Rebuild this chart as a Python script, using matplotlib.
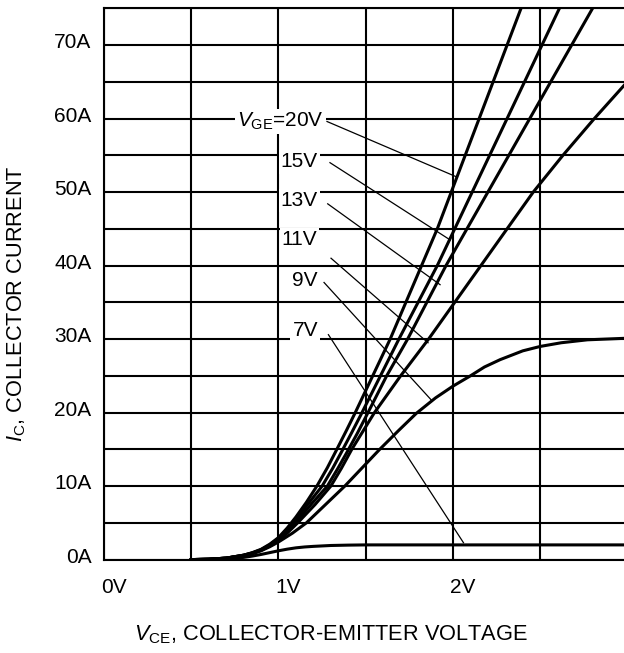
import numpy as np
import matplotlib.pyplot as plt
import matplotlib.transforms as mtransforms

plt.rcParams['font.family'] = ['Liberation Sans', 'DejaVu Sans']
plt.rcParams['mathtext.fontset'] = 'custom'
plt.rcParams['mathtext.rm'] = 'Liberation Sans'
plt.rcParams['mathtext.it'] = 'Liberation Sans:italic'

# output characteristics (V_CE in volts, I_C in amps)
v_20 = [0.5, 0.6, 0.7, 0.8, 0.85, 0.9, 0.95, 1.0, 1.05, 1.1, 1.16, 1.22, 1.28, 1.33, 1.39, 1.44, 1.54, 1.64,
        1.73, 1.82, 1.91, 1.99, 2.07, 2.15, 2.23, 2.31, 2.39, 2.43]
i_20 = [0, 0.05, 0.2, 0.6, 0.95, 1.4, 2.1, 3.0, 4.3, 5.8, 7.8, 10, 12.5, 14.8, 17.6, 20, 25, 30,
        35, 40, 45, 50, 55, 60, 65, 70, 75, 77.5]

v_15 = [0.5, 0.6, 0.7, 0.8, 0.85, 0.9, 0.95, 1.0, 1.05, 1.1, 1.17, 1.25, 1.31, 1.36, 1.42, 1.47, 1.58, 1.69,
        1.80, 1.91, 2.01, 2.11, 2.21, 2.31, 2.41, 2.51, 2.61, 2.65]
i_15 = [0, 0.05, 0.2, 0.6, 0.9, 1.35, 2.0, 2.9, 4.1, 5.5, 7.6, 10, 12.4, 14.6, 17.3, 19.6, 24.8, 30,
        35, 40, 45, 50, 55, 60, 65, 70, 75, 77]

v_13 = [0.5, 0.6, 0.7, 0.8, 0.85, 0.9, 0.95, 1.0, 1.05, 1.1, 1.19, 1.28, 1.34, 1.39, 1.45, 1.50, 1.62, 1.74,
        1.85, 1.96, 2.08, 2.20, 2.32, 2.44, 2.56, 2.68, 2.80, 2.85]
i_13 = [0, 0.05, 0.2, 0.6, 0.9, 1.3, 1.95, 2.8, 3.9, 5.1, 7.6, 10, 12.4, 14.5, 17.1, 19.4, 25, 30,
        35, 40, 45, 50, 55, 60, 65, 70, 75, 77]

v_11 = [0.5, 0.6, 0.7, 0.8, 0.85, 0.9, 0.95, 1.0, 1.05, 1.11, 1.21, 1.30, 1.36, 1.42, 1.55, 1.70, 1.86, 2.01,
        2.16, 2.31, 2.46, 2.63, 2.81, 2.98]
i_11 = [0, 0.05, 0.2, 0.55, 0.85, 1.25, 1.85, 2.6, 3.6, 5.0, 7.5, 10, 12.4, 15, 20, 25, 30, 35,
        40, 45, 50, 55, 60, 64.5]

v_9 = [0.5, 0.6, 0.7, 0.8, 0.85, 0.9, 0.95, 1.0, 1.08, 1.16, 1.27, 1.38, 1.48, 1.58, 1.69, 1.79, 1.90, 2.0,
       2.10, 2.18, 2.27, 2.40, 2.50, 2.62, 2.77, 2.98]
i_9 = [0, 0.05, 0.2, 0.5, 0.8, 1.2, 1.75, 2.4, 3.6, 5, 7.5, 10, 12.5, 15, 17.6, 19.9, 22.0, 23.6,
       25.0, 26.2, 27.2, 28.4, 29.0, 29.5, 29.9, 30.1]

v_7 = [0.5, 0.6, 0.7, 0.8, 0.85, 0.9, 0.95, 1.0, 1.05, 1.1, 1.15, 1.2, 1.3, 1.4, 1.5, 2.98]
i_7 = [0, 0.03, 0.1, 0.3, 0.48, 0.7, 0.95, 1.2, 1.42, 1.6, 1.72, 1.8, 1.92, 1.97, 2.0, 2.0]

# labels: text, right edge (V), centre (A), leader start and end
label_text = [r'$V_{\mathrm{GE}}$=20V', '15V', '13V', '11V', '9V', '7V']
label_x = [1.261, 1.226, 1.226, 1.223, 1.223, 1.226]
label_y = [59.6, 54.1, 48.9, 43.5, 38.0, 31.2]
lead_x0 = [1.278, 1.295, 1.282, 1.301, 1.261, 1.286]
lead_y0 = [59.6, 54.0, 48.4, 41.0, 37.7, 30.6]
lead_x1 = [2.017, 1.983, 1.926, 1.857, 1.880, 2.060]
lead_y1 = [52.1, 43.5, 37.4, 29.5, 21.6, 2.3]

x_ticks = [0, 1, 2]
x_tick_labels = ['0V', '1V', '2V']
y_ticks = [0, 10, 20, 30, 40, 50, 60, 70]
y_tick_labels = ['0A', '10A', '20A', '30A', '40A', '50A', '60A', '70A']

fig = plt.figure(figsize=(6.24, 6.53), dpi=100)
ax = fig.add_axes([104 / 624, 1 - 559.6 / 653, 1 - 104 / 624, (559.6 - 8.3) / 653])

ax.set_xlim(0, 2.98)
ax.set_ylim(0, 75)
ax.set_xticks(x_ticks)
ax.set_xticklabels(x_tick_labels)
ax.set_xticks(np.arange(0, 3.0, 0.5), minor=True)
ax.set_yticks(y_ticks)
ax.set_yticklabels(y_tick_labels)
ax.set_yticks(np.arange(0, 76, 5), minor=True)
ax.grid(True, which='both', color='black', linewidth=1.5, zorder=0)
ax.set_axisbelow(True)
ax.tick_params(which='both', length=0, labelsize=15)
ax.tick_params(axis='x', pad=13)
ax.tick_params(axis='y', pad=9)
for s in ['left', 'top', 'bottom']:
    ax.spines[s].set_linewidth(1.5)
ax.spines['right'].set_visible(False)

# nudge tick labels like the reference
dx = mtransforms.ScaledTranslation(9.5 / 100, 0, fig.dpi_scale_trans)
dy = mtransforms.ScaledTranslation(0, 4.5 / 100, fig.dpi_scale_trans)
for t in ax.xaxis.get_major_ticks():
    t.label1.set_transform(t.label1.get_transform() + dx)
for t in ax.yaxis.get_major_ticks():
    t.label1.set_transform(t.label1.get_transform() + dy)

for v, i in [(v_20, i_20), (v_15, i_15), (v_13, i_13), (v_11, i_11), (v_9, i_9), (v_7, i_7)]:
    ax.plot(v, i, color='black', linewidth=2.2, solid_joinstyle='round', zorder=2)

for k in range(len(label_text)):
    ax.plot([lead_x0[k], lead_x1[k]], [lead_y0[k], lead_y1[k]], color='black', linewidth=0.9, zorder=2)
    ax.text(label_x[k], label_y[k], label_text[k], ha='right', va='center', fontsize=15, zorder=3,
            bbox=dict(facecolor='white', edgecolor='none', pad=1.5))

fig.text(331 / 624, 1 - 640 / 653, r'$V_{\mathrm{CE}}$, COLLECTOR-EMITTER VOLTAGE',
         ha='center', va='baseline', fontsize=15.7)
fig.text(17 / 624, 1 - 304 / 653, r'$I_{\mathrm{C}}$, COLLECTOR CURRENT',
         ha='center', va='center', rotation=90, fontsize=15.7)

fig.savefig('out.png', dpi=100)
